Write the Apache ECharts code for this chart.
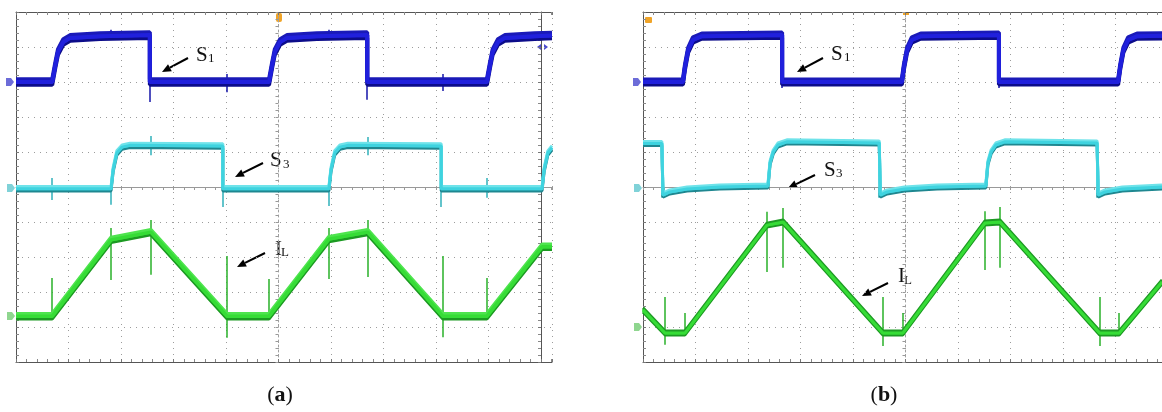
<!DOCTYPE html>
<html>
<head>
<meta charset="utf-8">
<script src="https://cdn.jsdelivr.net/npm/echarts@6/dist/echarts.min.js"></script>
<style>
html, body { margin: 0; background: #fff; }
#chart { width: 1162px; height: 412px; }
</style>
</head>
<body>
<div id="chart"></div>
<script>
// all values in scope divisions, centre of screen = (0, 0)
// panel (a)
const s1aPts = [[-5, 3.0], [-4.31, 3.0], [-4.25, 3.49], [-4.20, 3.86], [-4.10, 4.14], [-3.97, 4.26], [-3.40, 4.31], [-2.45, 4.34], [-2.45, 3.0],
  [-0.18, 3.0], [-0.12, 3.49], [-0.07, 3.86], [0.03, 4.14], [0.16, 4.26], [0.73, 4.31], [1.69, 4.34], [1.69, 3.0],
  [3.97, 3.0], [4.03, 3.49], [4.08, 3.86], [4.18, 4.14], [4.31, 4.26], [4.88, 4.31], [5.21, 4.33]];
const s3aPts = [[-5, -0.05], [-3.19, -0.05], [-3.15, 0.49], [-3.08, 0.97], [-2.98, 1.14], [-2.83, 1.19], [-1.06, 1.17], [-1.06, -0.05],
  [0.96, -0.05], [1.0, 0.49], [1.07, 0.97], [1.17, 1.14], [1.32, 1.19], [3.10, 1.17], [3.10, -0.05],
  [5.02, -0.05], [5.06, 0.49], [5.13, 0.97], [5.21, 1.12]];
const ilaPts = [[-5, -3.69], [-4.31, -3.69], [-3.19, -1.51], [-2.43, -1.29], [-0.98, -3.69], [-0.18, -3.69], [0.96, -1.49], [1.70, -1.29],
  [3.13, -3.69], [3.97, -3.69], [5.02, -1.71], [5.21, -1.71]];
// spikes: [x, from, to]
const s1aSpikes = [[-2.45, 3.0, 2.43], [-0.98, 3.23, 2.71], [1.69, 3.0, 2.49], [3.13, 3.23, 2.74], [-3.19, 4.3, 4.49], [0.96, 4.3, 4.49]];
const s3aSpikes = [[-4.31, 0.26, -0.37], [-3.19, 0, -0.51], [-2.43, 1.46, 0.91], [-1.06, 0.8, -0.57], [0.96, 0, -0.54], [1.70, 1.43, 0.91], [3.10, 0.77, -0.57], [3.97, 0.26, -0.31]];
const ilaSpikes = [[-4.31, -2.6, -3.69], [-3.19, -1.17, -2.66], [-2.43, -0.94, -2.51], [-0.98, -1.97, -4.31], [-0.18, -2.63, -3.69],
  [0.96, -1.17, -2.63], [1.70, -0.94, -2.57], [3.13, -1.97, -4.29], [3.97, -2.6, -3.69]];

// panel (b)
const s1bPts = [[-5, 3.0], [-4.24, 3.0], [-4.20, 3.43], [-4.14, 3.91], [-4.05, 4.2], [-3.88, 4.31], [-2.35, 4.34], [-2.35, 3.0],
  [-0.07, 3.0], [-0.03, 3.43], [0.03, 3.91], [0.12, 4.2], [0.29, 4.31], [1.78, 4.34], [1.78, 3.0],
  [4.05, 3.0], [4.09, 3.43], [4.15, 3.91], [4.24, 4.2], [4.41, 4.31], [4.886, 4.32]];
const s3bPts = [[-5, 1.24], [-4.64, 1.24], [-4.62, -0.23], [-4.49, -0.14], [-4.16, -0.06], [-3.54, 0.0], [-2.62, 0.03],
  [-2.58, 0.69], [-2.52, 1.0], [-2.43, 1.2], [-2.26, 1.29], [-0.50, 1.26], [-0.48, -0.23], [-0.35, -0.14], [-0.02, -0.06], [0.60, 0.0], [1.53, 0.03],
  [1.57, 0.69], [1.63, 1.0], [1.72, 1.2], [1.89, 1.29], [3.65, 1.26], [3.67, -0.23], [3.80, -0.14], [4.13, -0.06], [4.886, 0.0]];
const ilbPts = [[-5, -3.51], [-4.58, -4.17], [-4.2, -4.17], [-2.64, -1.09], [-2.33, -1.0], [-0.43, -4.17], [-0.05, -4.17],
  [1.51, -1.03], [1.8, -1.0], [3.70, -4.17], [4.07, -4.17], [4.886, -2.71]];
const s1bSpikes = [[-2.35, 3.0, 2.83], [1.78, 3.0, 2.83]];
const s3bSpikes = [[-4.64, 0, -0.31], [-0.50, 0, -0.31], [3.65, 0, -0.31]];
const ilbSpikes = [[-4.58, -3.14, -4.51], [-4.2, -3.6, -4.17], [-2.64, -0.71, -2.43], [-2.33, -0.6, -2.31], [-0.43, -3.14, -4.54],
  [-0.05, -3.6, -4.17], [1.51, -0.69, -2.37], [1.8, -0.57, -2.31], [3.70, -3.14, -4.54], [4.07, -3.6, -4.17]];

const xMaxA = 5.21, xMaxB = 4.886;

const chart = echarts.init(document.getElementById('chart'));

const centreX = (g, max) => ({
  gridIndex: g, type: 'value', min: -5, max, interval: 1, position: 'bottom',
  axisLine: { onZero: true, lineStyle: { color: '#999' } },
  axisTick: { show: true, length: 3, lineStyle: { color: '#999' } },
  minorTick: { show: true, splitNumber: 5, length: 3, lineStyle: { color: '#999' } },
  axisLabel: { show: false },
  splitLine: { show: true, lineStyle: { color: '#9c9c9c', type: [1, 5] } }
});
const centreY = (g) => ({
  gridIndex: g, type: 'value', min: -5, max: 5, interval: 1, position: 'left',
  axisLine: { onZero: true, lineStyle: { color: '#a0a0a0', type: [2, 3] } },
  axisTick: { show: true, length: 3, lineStyle: { color: '#999' } },
  minorTick: { show: true, splitNumber: 5, length: 3, lineStyle: { color: '#999' } },
  axisLabel: { show: false },
  splitLine: { show: true, lineStyle: { color: '#9c9c9c', type: [1, 5] } }
});
const border = (g, pos, isX, max, offset) => ({
  gridIndex: g, type: 'value', min: -5, max: isX ? max : 5, interval: 1, position: pos, offset: offset || 0,
  axisLine: { onZero: false, lineStyle: { color: '#555' } },
  axisTick: { show: true, inside: true, length: 3, lineStyle: { color: '#777' } },
  minorTick: { show: true, splitNumber: 5, length: 3, lineStyle: { color: '#888' } },
  axisLabel: { show: false },
  splitLine: { show: false }
});

function trace(pts, ax, color, topEdge, bottomEdge, w, off) {
  const base = {
    type: 'line', xAxisIndex: ax, yAxisIndex: ax === 0 ? 0 : 3, data: pts,
    symbol: 'none', silent: true, animation: false
  };
  return [
    Object.assign({}, base, { lineStyle: { color, width: w, shadowColor: bottomEdge, shadowBlur: 0, shadowOffsetY: off } }),
    Object.assign({}, base, { lineStyle: { color, width: w, shadowColor: topEdge, shadowBlur: 0, shadowOffsetY: -off } })
  ];
}
function spikes(list, ax, color) {
  return {
    type: 'lines', coordinateSystem: 'cartesian2d', xAxisIndex: ax, yAxisIndex: ax === 0 ? 0 : 3,
    data: list.map(s => ({ coords: [[s[0], s[1]], [s[0], s[2]]] })),
    lineStyle: { color, width: 1.5, opacity: 1 }, silent: true, animation: false, z: 3
  };
}

function arrow(x1, y1, x2, y2) {
  const dx = x2 - x1, dy = y2 - y1, L = Math.hypot(dx, dy), ux = dx / L, uy = dy / L;
  const hl = 9, hw = 4, bx = x2 - ux * hl, by = y2 - uy * hl;
  return [
    { type: 'line', shape: { x1, y1, x2: bx, y2: by }, style: { stroke: '#000', lineWidth: 2 } },
    { type: 'polygon', shape: { points: [[x2, y2], [bx - uy * hw, by + ux * hw], [bx + uy * hw, by - ux * hw]] }, style: { fill: '#000' } }
  ];
}
function label(x, y, main, sub, sx, sy) {
  return [
    { type: 'text', style: { text: main, x, y, font: '21px "Liberation Serif"', fill: '#111', textVerticalAlign: 'middle' } },
    { type: 'text', style: { text: sub, x: x + sx, y: y + sy, font: '13px "Liberation Serif"', fill: '#111', textVerticalAlign: 'middle' } }
  ];
}
function marker(x, y, color) {
  return { type: 'polygon', shape: { points: [[x, y - 4], [x + 5, y - 4], [x + 8, y], [x + 5, y + 4], [x, y + 4]] }, style: { fill: color } };
}
function caption(x, letter) {
  return {
    type: 'text', style: {
      text: '{n|(}{b|' + letter + '}{n|)}', x, y: 395, textAlign: 'center', textVerticalAlign: 'middle',
      rich: { n: { font: '22px "Liberation Serif"', fill: '#111' }, b: { font: 'bold 22px "Liberation Serif"', fill: '#111' } }
    }
  };
}

const blue = ['#2020dc', '#1a1ab8', '#0c0c8a'];
const cyan = ['#3fd3df', '#6fe3ea', '#1f8790'];
const green = ['#36dc36', '#4ee44e', '#1c9a22'];

chart.setOption({
  animation: false,
  grid: [
    { left: 16, top: 12, width: 536, height: 350 },
    { left: 643, top: 12, width: 519, height: 350 }
  ],
  xAxis: [
    centreX(0, xMaxA), border(0, 'top', true, xMaxA), border(0, 'bottom', true, xMaxA),
    centreX(1, xMaxB), border(1, 'top', true, xMaxB), border(1, 'bottom', true, xMaxB)
  ],
  yAxis: [
    centreY(0), border(0, 'left', false), border(0, 'right', false, 0, -11),
    centreY(1), border(1, 'left', false)
  ],
  series: [
    ...trace(s1aPts, 0, blue[0], blue[1], blue[2], 4, 2.8),
    ...trace(s3aPts, 0, cyan[0], cyan[1], cyan[2], 3, 2.2),
    ...trace(ilaPts, 0, green[0], green[1], green[2], 3.5, 2.5),
    spikes(s1aSpikes, 0, '#1515a8'), spikes(s3aSpikes, 0, '#2fb0ba'), spikes(ilaSpikes, 0, '#28b028'),
    ...trace(s1bPts, 3, blue[0], blue[1], blue[2], 4, 2.6),
    ...trace(s3bPts, 3, cyan[0], cyan[1], cyan[2], 3, 2),
    ...trace(ilbPts, 3, green[0], '#1e9a24', green[2], 3, 2),
    spikes(s1bSpikes, 3, '#1515a8'), spikes(s3bSpikes, 3, '#2fb0ba'), spikes(ilbSpikes, 3, '#28b028')
  ],
  graphic: [
    ...arrow(188, 58, 162, 72), ...label(196, 55, 'S', '1', 12, 4),
    ...arrow(263, 163, 235, 177), ...label(270, 160, 'S', '3', 13, 5),
    ...arrow(265, 253, 237, 267), ...label(275, 249, 'I', 'L', 6, 4),
    ...arrow(823, 58, 797, 72), ...label(831, 54, 'S', '1', 13, 4),
    ...arrow(815, 175, 788, 188), ...label(824, 170, 'S', '3', 12, 4),
    ...arrow(888, 283, 862, 296), ...label(898, 276, 'I', 'L', 6, 5),
    marker(6, 82, '#6c6cd8'), marker(7, 188, '#80d2d8'), marker(7, 316, '#8fd68f'),
    marker(633, 82, '#6c6cd8'), marker(634, 188, '#80d2d8'), marker(634, 327, '#8fd68f'),
    { type: 'rect', shape: { x: 276, y: 13, width: 6, height: 9, r: 2 }, style: { fill: '#f0a428' } },
    { type: 'rect', shape: { x: 645, y: 17, width: 7, height: 6, r: 1 }, style: { fill: '#f0a428' } },
    { type: 'rect', shape: { x: 903, y: 12, width: 6, height: 3 }, style: { fill: '#f0a428' } },
    { type: 'polygon', shape: { points: [[537, 47], [541, 44], [541, 50]] }, style: { fill: '#4a4ad0' } },
    { type: 'polygon', shape: { points: [[548, 47], [544, 44], [544, 50]] }, style: { fill: '#4a4ad0' } },
    caption(280, 'a'), caption(884, 'b')
  ]
});
</script>
</body>
</html>
